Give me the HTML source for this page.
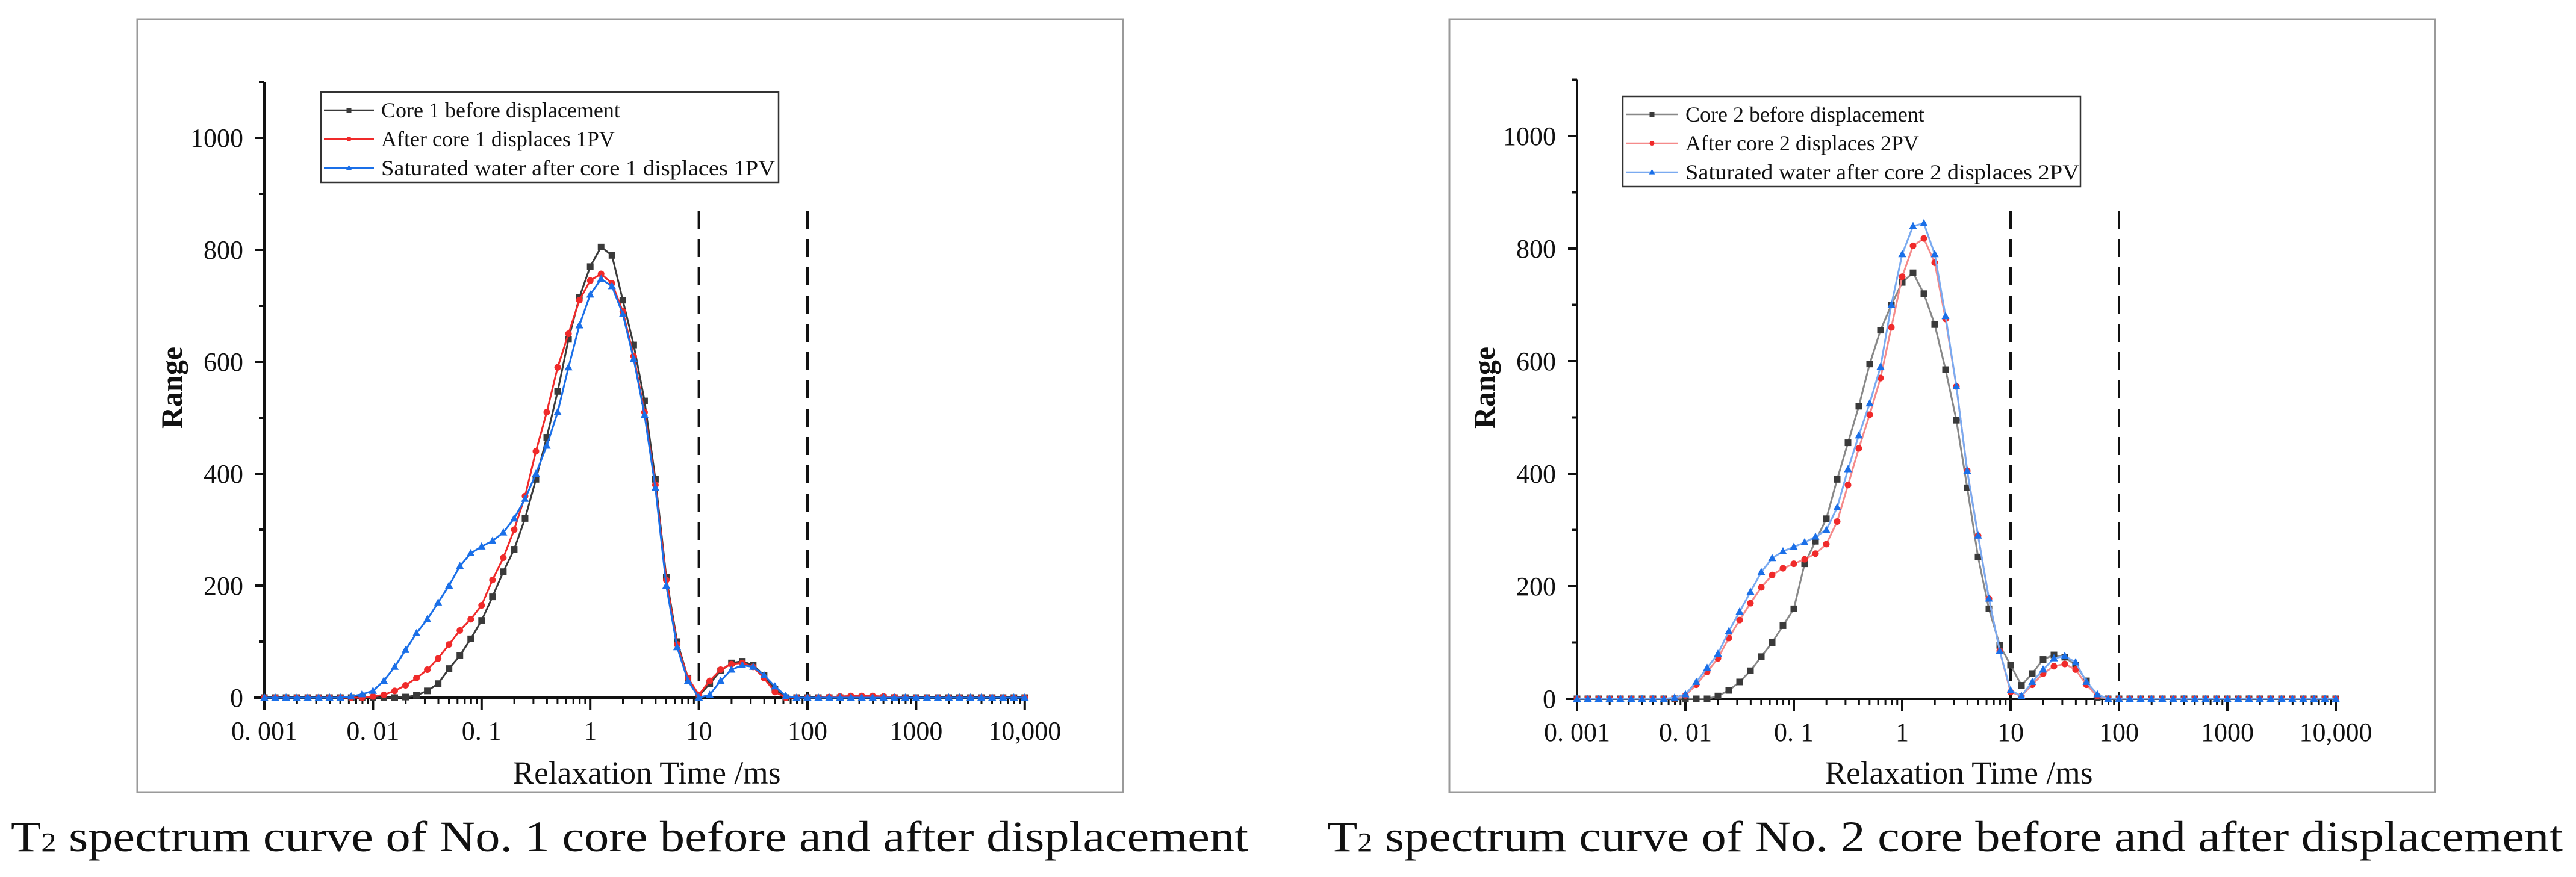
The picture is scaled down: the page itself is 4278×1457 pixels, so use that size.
<!DOCTYPE html>
<html><head><meta charset="utf-8"><style>
html,body{margin:0;padding:0;background:#fff;}
svg{display:block;}
text{font-family:"Liberation Serif",serif;fill:#111;}
</style></head><body>
<svg id="root" width="4278" height="1457" viewBox="0 0 4278 1457" xmlns="http://www.w3.org/2000/svg">
<rect x="0" y="0" width="4278" height="1457" fill="#fff"/>
<rect x="228" y="32" width="1637" height="1284" fill="none" stroke="#9a9a9a" stroke-width="3"/>
<rect x="2407" y="32" width="1637" height="1284" fill="none" stroke="#9a9a9a" stroke-width="3"/>
<text x="18" y="1414" font-size="72" textLength="2055" lengthAdjust="spacingAndGlyphs">T<tspan font-size="44">2</tspan> spectrum curve of No. 1 core before and after displacement</text>
<text x="2204" y="1414" font-size="72" textLength="2052" lengthAdjust="spacingAndGlyphs">T<tspan font-size="44">2</tspan> spectrum curve of No. 2 core before and after displacement</text>
<g id="c1"></g>
<g id="c2"></g>
</svg>
<script>
// log10(T2) grid: -3.0 .. 4.0 step 0.1 (71 points)
const logStart = -3, logStep = 0.1;
const xTickLabels = ["0. 001","0. 01","0. 1","1","10","100","1000","10,000"];
const yTickValues = [0,200,400,600,800,1000];
const dashedAt = [10,100];
const legend1 = ["Core 1 before displacement","After core 1 displaces 1PV","Saturated water after core 1 displaces 1PV"];
const legend2 = ["Core 2 before displacement","After core 2 displaces 2PV","Saturated water after core 2 displaces 2PV"];
const c1Before = [0,0,0,0,0,0,0,0,0,0,0,0,0,
 1,4,12,25,52,75,105,138,180,225,265,320,390,465,547,640,715,770,805,790,710,630,530,390,215,100,35,3,25,48,62,65,58,40,15,0,
 0,0,0,0,0,0,0,0,0,0,0,0,0,0,0,0,0,0,0,0,0,0];
const c1After = [0,0,0,0,0,0,0,0,0,0,
 2,5,12,22,35,50,70,95,120,140,165,210,250,300,360,440,510,590,650,710,745,757,740,690,610,510,380,210,95,35,5,30,50,60,62,55,35,10,0,
 0,0,0,1,2,3,3,3,2,1,0,0,0,0,0,0,0,0,0,0,0,0];
const c1Water = [0,0,0,0,0,0,0,0,
 2,6,12,30,55,85,115,140,170,200,235,258,270,280,295,320,355,400,450,510,590,665,720,748,735,685,605,505,375,200,90,30,0,5,30,50,58,55,40,20,3,0,
 0,0,0,0,0,0,0,0,0,0,0,0,0,0,0,0,0,0,0,0,0];
const c2Before = [0,0,0,0,0,0,0,0,0,0,0,0,0,
 5,15,30,50,75,100,130,160,240,280,320,390,455,520,595,655,700,740,757,720,665,585,495,375,252,160,95,60,24,45,70,78,74,60,32,2,
 0,0,0,0,0,0,0,0,0,0,0,0,0,0,0,0,0,0,0,0,0,0];
const c2After = [0,0,0,0,0,0,0,0,0,
 1,6,25,48,72,108,140,170,198,220,232,240,248,258,275,315,380,445,505,570,660,750,805,818,775,675,555,405,290,178,85,12,5,25,45,58,62,52,25,5,
 0,0,0,0,0,0,0,0,0,0,0,0,0,0,0,0,0,0,0,0,0,0];
const c2Water = [0,0,0,0,0,0,0,0,0,
 2,8,30,55,80,120,155,190,225,250,262,270,278,288,300,340,408,468,525,590,700,790,840,845,790,680,555,405,290,178,85,15,5,30,52,72,76,65,30,8,
 0,0,0,0,0,0,0,0,0,0,0,0,0,0,0,0,0,0,0,0,0,0];

const NS = "http://www.w3.org/2000/svg";
function mk(tag, attrs, parent){const e=document.createElementNS(NS,tag);for(const k in attrs)e.setAttribute(k,attrs[k]);parent.appendChild(e);return e;}

function drawChart(g, cfg, series, legendLabels){
  const xS = v => cfg.x0 + (Math.log10(v)+3)*cfg.dec;
  const xL = l => cfg.x0 + (l+3)*cfg.dec;
  const yS = v => cfg.y0 - v*cfg.py;
  dashedAt.forEach(d=>{
    const l=mk("line",{x1:xS(d),x2:xS(d),y1:350,y2:cfg.y0,stroke:"#111","stroke-width":4,"stroke-dasharray":"30,17"},g);
    
    
  });
  const ya=mk("line",{x1:cfg.x0,x2:cfg.x0,y1:yS(1100),y2:cfg.y0+2,stroke:"#111","stroke-width":4},g);
  
  
  for(let v=100; v<=1100; v+=100){
    const major = v%200===0;
    mk("line",{x1:cfg.x0-(major?15:9),x2:cfg.x0,y1:yS(v),y2:yS(v),stroke:"#111","stroke-width":4},g);
  }
  yTickValues.forEach(v=>{
    mk("line",{x1:cfg.x0-15,x2:cfg.x0,y1:yS(v),y2:yS(v),stroke:"#111","stroke-width":4},g);
    const t=mk("text",{x:cfg.x0-35,y:yS(v)+15,"font-size":44,"text-anchor":"end"},g);
    t.textContent=String(v);
    
    
  });
  const xa=mk("line",{x1:cfg.x0-18,x2:xL(4)+4,y1:cfg.y0,y2:cfg.y0,stroke:"#111","stroke-width":4},g);
  
  
  for(let d=-3; d<=4; d++){
    mk("line",{x1:xL(d),x2:xL(d),y1:cfg.y0,y2:cfg.y0+20,stroke:"#111","stroke-width":4},g);
    if(d<4) for(let m=2;m<=9;m++){
      const xx=xL(d+Math.log10(m));
      mk("line",{x1:xx,x2:xx,y1:cfg.y0,y2:cfg.y0+10,stroke:"#111","stroke-width":3},g);
    }
  }
  xTickLabels.forEach((lab,i)=>{
    const t=mk("text",{x:xL(i-3),y:cfg.y0+70,"font-size":44,"text-anchor":"middle"},g);
    t.textContent=lab;
    
    
  });
  const xt=mk("text",{x:cfg.titleX,y:1302,"font-size":54,"text-anchor":"middle",textLength:445,lengthAdjust:"spacingAndGlyphs"},g);
  xt.textContent="Relaxation Time /ms";
  
  
  const yt=mk("text",{x:0,y:0,"font-size":50,"font-weight":"bold","text-anchor":"middle",transform:`translate(${cfg.x0-137},644) rotate(-90)`},g);
  yt.textContent="Range";
  
  
  series.forEach((s,si)=>{
    const pts=s.vals.map((v,i)=>[xL(logStart+i*logStep), yS(v)]);
    const sg=mk("g",{},g);
    
    
    const p=mk("polyline",{points:pts.map(p=>p[0].toFixed(1)+","+p[1].toFixed(1)).join(" "),fill:"none",stroke:s.line,"stroke-width":3},sg);
    
    
    pts.forEach(pt=>drawMarker(sg,s.shape,pt[0],pt[1],s.color,11));
  });
  const lg=mk("g",{},g);
  
  
  mk("rect",{x:cfg.lx,y:cfg.ly,width:cfg.lw,height:150,fill:"#fff",stroke:"#333","stroke-width":2.5},lg);
  legendLabels.forEach((lab,i)=>{
    const yy=cfg.ly+30+i*48;
    const s=series[i];
    const e=mk("g",{},lg);
    
    
    mk("line",{x1:cfg.lx+5,x2:cfg.lx+cfg.sw,y1:yy,y2:yy,stroke:s.line,"stroke-width":2.5},e);
    drawMarker(e,s.shape,cfg.lx+5+(cfg.sw-5)/2,yy,s.color,8);
    const t=mk("text",{x:cfg.lx+cfg.sw+12,y:yy+12,"font-size":36},e);
    if(i===2){ t.setAttribute("textLength",654); t.setAttribute("lengthAdjust","spacingAndGlyphs"); }
    t.textContent=lab;
  });
}
function drawMarker(parent,shape,x,y,color,s){
  let m;
  if(shape==="sq") m=mk("rect",{x:x-s/2,y:y-s/2,width:s,height:s,fill:color},parent);
  else if(shape==="ci") m=mk("circle",{cx:x,cy:y,r:s/2,fill:color},parent);
  else m=mk("polygon",{points:`${x},${y-s*0.65} ${x-s*0.6},${y+s*0.45} ${x+s*0.6},${y+s*0.45}`,fill:color},parent);
  
  
}
drawChart(document.getElementById("c1"),
  {x0:439,dec:180.4,y0:1159,py:0.93,titleX:1074,lx:533,ly:153,lw:760,sw:88},
  [{key:"core1-before",vals:c1Before,color:"#3a3a3a",line:"#3a3a3a",shape:"sq"},
   {key:"core1-after",vals:c1After,color:"#f02a2a",line:"#f02a2a",shape:"ci"},
   {key:"core1-water",vals:c1Water,color:"#1a6fe8",line:"#1a6fe8",shape:"tr"}], legend1);
drawChart(document.getElementById("c2"),
  {x0:2619,dec:180,y0:1161,py:0.935,titleX:3253,lx:2695,ly:160,lw:760,sw:92},
  [{key:"core2-before",vals:c2Before,color:"#3a3a3a",line:"#888",shape:"sq"},
   {key:"core2-after",vals:c2After,color:"#f02a2a",line:"#f58a8a",shape:"ci"},
   {key:"core2-water",vals:c2Water,color:"#1a6fe8",line:"#7aaaf0",shape:"tr"}], legend2);
</script>
</body></html>
